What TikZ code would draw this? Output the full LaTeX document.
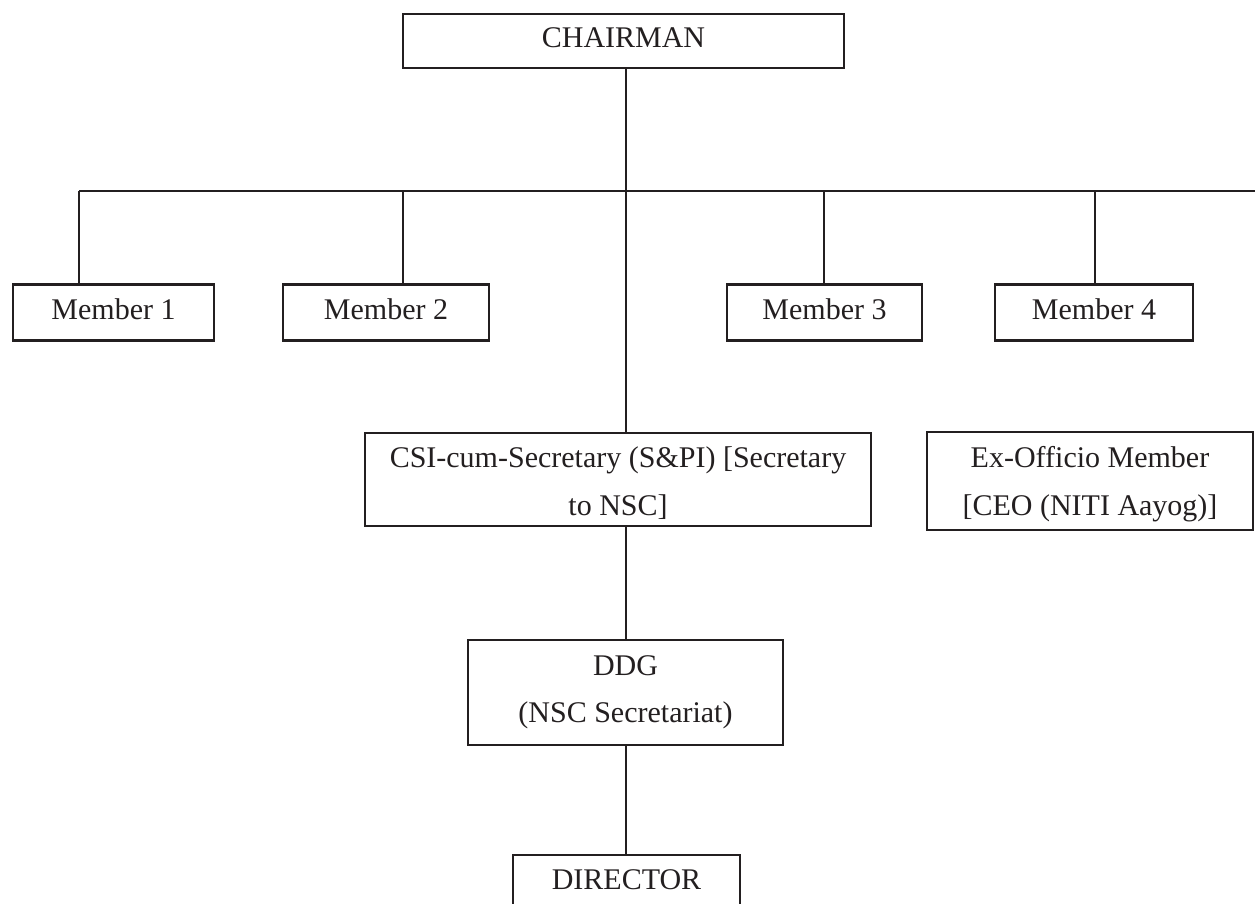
\documentclass[tikz,border=0pt]{standalone}
\usepackage{fontspec}
\setmainfont{Liberation Serif}
\definecolor{ink}{HTML}{231F20}
\begin{document}
\begin{tikzpicture}[x=1pt,y=-1pt,
  box/.style={draw=ink, line width=2.6pt, rectangle, inner sep=0pt, text=ink,
              font=\fontsize{30}{48}\selectfont},
  one/.style={box, text height=20pt, text depth=7pt},
  two/.style={box, align=center},
  link/.style={draw=ink, line width=2.6pt}]
\useasboundingbox (0,0) rectangle (1255,904);

% boxes
\node[one, minimum width=441pt, minimum height=54pt] (chair) at (623.5,41) {CHAIRMAN};
\node[one, minimum width=201pt, minimum height=56pt] (m1) at (113.5,312.5) {Member 1};
\node[one, minimum width=206pt, minimum height=56pt] (m2) at (386,312.5) {Member 2};
\node[one, minimum width=195pt, minimum height=56pt] (m3) at (824.5,312.5) {Member 3};
\node[one, minimum width=198pt, minimum height=56pt] (m4) at (1094,312.5) {Member 4};
\node[two, minimum width=506pt, minimum height=93pt] (csi) at (618,479.5)
  {\rule{0pt}{28.3pt}CSI-cum-Secretary (S\&PI) [Secretary\\to NSC]};
\node[two, minimum width=326pt, minimum height=98pt] (exo) at (1090,481)
  {\rule{0pt}{26.5pt}Ex-Officio Member\\{}[CEO (NITI Aayog)]};
\node[two, minimum width=315pt, minimum height=105pt,
      font=\fontsize{30}{47}\selectfont] (ddg) at (625.5,692.5)
  {DDG\\(NSC Secretariat)};
\node[one, minimum width=227pt, minimum height=55pt] (dir) at (626.5,882.5) {DIRECTOR};

% bus and spine coordinates
\coordinate (spine) at (626,191);
\coordinate (b1) at (79,191);
\coordinate (b2) at (403,191);
\coordinate (b3) at (824,191);
\coordinate (b4) at (1095,191);
\coordinate (bend) at (1255,191);

% connectors
\draw[link] (b1) -- (bend);
\draw[link] (spine |- chair.south) -- (spine |- csi.north);
\draw[link] (b1) -- (b1 |- m1.north);
\draw[link] (b2) -- (b2 |- m2.north);
\draw[link] (b3) -- (b3 |- m3.north);
\draw[link] (b4) -- (b4 |- m4.north);
\draw[link] (spine |- csi.south) -- (spine |- ddg.north);
\draw[link] (spine |- ddg.south) -- (spine |- dir.north);
\end{tikzpicture}
\end{document}
